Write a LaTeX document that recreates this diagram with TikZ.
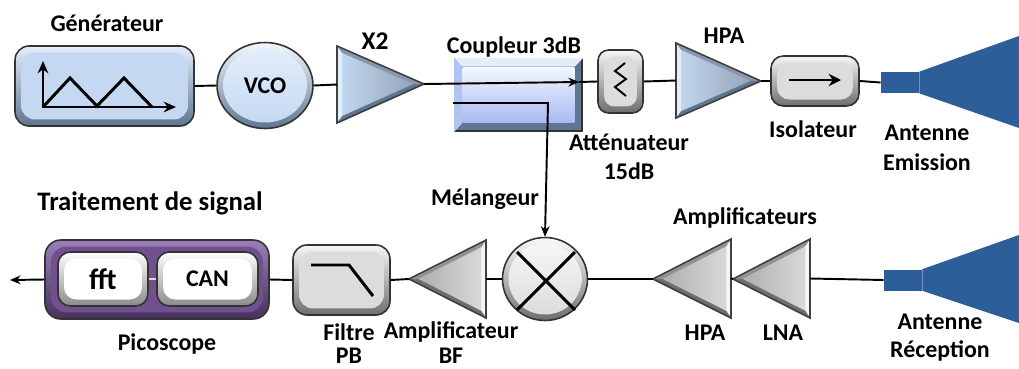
\documentclass[tikz,border=0pt]{standalone}
\usepackage{fontspec}
\setmainfont{Carlito}
\usetikzlibrary{calc,shapes.geometric,arrows.meta}
\definecolor{bluL}{HTML}{E3EEFB}
\definecolor{bluF}{HTML}{C4D9F1}
\definecolor{bluD}{HTML}{5F7590}
\definecolor{griL}{HTML}{F6F6F6}
\definecolor{griF}{HTML}{DCDCDC}
\definecolor{griD}{HTML}{6E6E6E}
\definecolor{vioL}{HTML}{9A7FB8}
\definecolor{vioF}{HTML}{70508F}
\definecolor{vioD}{HTML}{46315E}
\definecolor{blaL}{HTML}{FFFFFF}
\definecolor{blaF}{HTML}{FFFFFF}
\definecolor{blaD}{HTML}{8A8A8A}
\definecolor{horn}{HTML}{2C5E99}
\tikzset{
	lab/.style={font=\bfseries\fontsize{13.6}{15}\selectfont,inner sep=0pt},
	wire/.style={line width=1.1pt},
	sym/.style={line width=1.7pt},
	tip/.style={-{Stealth[length=6pt,width=5pt]}},
	outer/.style={draw=black!80,line width=0.9pt,inner sep=0pt},
	plain/.style={inner sep=0pt}
}
% name, centre, width, height, radius, colours, text
\newcommand{\boitier}[7]{
	\node[outer,minimum width=#3cm,minimum height=#4cm,rounded corners=#5pt,top color=#6L,bottom color=#6D] (#1) at (#2) {};
	\node[plain,fill=#6F,minimum width=#3cm-0.24cm,minimum height=#4cm-0.26cm,rounded corners=#5pt] (#1in) at (#2) {#7};
}
% name, centre, width, height, colours, text
\newcommand{\boule}[6]{
	\node[outer,ellipse,minimum width=#3cm,minimum height=#4cm,top color=#5L!40!white,bottom color=#5D] (#1) at (#2) {};
	\node[plain,ellipse,minimum width=#3cm-0.24cm,minimum height=#4cm-0.24cm,top color=#5L,bottom color=#5F] (#1in) at (#2) {#6};
}
% name, tip, top, bottom, colours, left shade, right shade
\newcommand{\ampli}[7]{
	\coordinate (#1a) at (#2);
	\coordinate (#1b) at (#3);
	\coordinate (#1c) at (#4);
	\coordinate (#1m) at ($(#1b)!.5!(#1c)$);
	\coordinate (#1g) at ($(#1a)!.667!(#1m)$);
	\coordinate (#1A) at ($(#1a)!.18!(#1g)$);
	\coordinate (#1B) at ($(#1b)!.18!(#1g)$);
	\coordinate (#1C) at ($(#1c)!.18!(#1g)$);
	\shade[left color=#6,right color=#7] (#1a) -- (#1b) -- (#1c) -- cycle;
	\fill[#5L] (#1b) -- (#1c) -- (#1C) -- (#1B) -- cycle;
	\fill[#5D!75] (#1a) -- (#1b) -- (#1B) -- (#1A) -- cycle;
	\fill[#5D] (#1a) -- (#1c) -- (#1C) -- (#1A) -- cycle;
	\draw[draw=black!75,line width=0.9pt,line join=miter] (#1a) -- (#1b) -- (#1c) -- cycle;
}
\begin{document}
\begin{tikzpicture}[x=0.02cm,y=-0.02cm]
	\useasboundingbox (0,0) rectangle (1019,369);

	% voie emission
	\boitier{gen}{104.5,86}{3.58}{1.6}{8}{blu}{}
	\boule{vco}{265,85.5}{1.92}{1.72}{blu}{\textbf{\fontsize{13.6}{15}\selectfont VCO}}
	\ampli{xtwo}{424,84}{337,46}{337,123}{blu}{bluF}{bluD!70}
	\node[outer,minimum width=2.54cm,minimum height=1.44cm,fill=bluD] (cpl) at (518.5,95) {};
	\node[plain,minimum width=2.24cm,minimum height=1.12cm,top color=bluL!40!white,bottom color=bluF!85!blue] (cplin) at (518.5,95) {};
	\fill[bluL] (cpl.north west) -- (cpl.north east) -- (cplin.north east) -- (cplin.north west) -- cycle;
	\fill[bluF!90!blue] (cpl.north west) -- (cpl.south west) -- (cplin.south west) -- (cplin.north west) -- cycle;
	\boitier{att}{620.5,81.5}{0.9}{1.26}{6}{gri}{}
	\ampli{hpa}{761,81}{676,43}{676,118}{blu}{bluF}{bluD!70}
	\boitier{iso}{815,81}{1.76}{1.0}{7}{gri}{}
	\node[plain,fill=horn,minimum width=0.76cm,minimum height=0.42cm] (ante) at (900,82.5) {};
	\fill[horn] (ante.north east) -- (1019,36) -- (1019,128) -- (ante.south east) -- cycle;

	% voie reception
	\node[plain,fill=horn,minimum width=0.76cm,minimum height=0.42cm] (antr) at (903,280) {};
	\fill[horn] (antr.north east) -- (1019,235) -- (1019,323) -- (antr.south east) -- cycle;
	\ampli{lna}{733,279}{810,239}{810,318}{gri}{griD!60}{griF}
	\ampli{hpb}{653,279}{731,239}{731,318}{gri}{griD!60}{griF}
	\boule{mix}{545,279}{1.7}{1.66}{gri}{}
	\ampli{abf}{409,279}{486,240}{486,318}{gri}{griD!60}{griF}
	\boitier{fil}{341.5,280}{1.94}{1.4}{8}{gri}{}
	\boitier{pico}{157,279.5}{4.48}{1.58}{9}{vio}{}
	\boitier{fft}{103,279}{1.8}{1.08}{7}{bla}{\textbf{\fontsize{17}{19}\selectfont fft}}
	\boitier{can}{207.5,279}{2.02}{1.08}{7}{bla}{\textbf{\fontsize{13.6}{15}\selectfont CAN}}

	% liaisons
	\coordinate (cplout) at (579,82);
	\coordinate (cpldeb) at (453,103);
	\coordinate (cplcoude) at (548,103);
	\coordinate (sortie) at (10,280);
	\draw[wire] (gen.east) -- (vco.west);
	\draw[wire] (vco.east) -- (xtwom);
	\draw[wire,tip] (xtwoa) -- (cplout);
	\draw[wire] (cplout) -- (att.west);
	\draw[wire] (att.east) -- (hpam);
	\draw[wire] (hpaa) -- (iso.west);
	\draw[wire] (iso.east) -- (ante.west);
	\draw[wire,tip] (cpldeb) -- (cplcoude) -- (mix.north);
	\draw[wire] (antr.west) -- (lnam);
	\draw[wire] (lnaa) -- (hpbm);
	\draw[wire] (hpba) -- (mix.east);
	\draw[wire] (mix.west) -- (abfm);
	\draw[wire] (abfa) -- (fil.east);
	\draw[wire] (fil.west) -- (pico.east);
	\draw[wire,tip] (pico.west) -- (sortie);
	\draw[white!85!black,line width=1.6pt] (fft.east) -- (can.west);

	% symboles
	\draw[sym,{Stealth[length=7pt,width=6pt]}-{Stealth[length=7pt,width=6pt]}] (43,61) -- (43,107) -- (176,107);
	\draw[sym] (43,107) -- (70,78) -- (97,106) -- (124,78) -- (152,107);
	\draw[line width=1.1pt] (625,63) -- (615,71) -- (626,79) -- (615,87) -- (626,96);
	\draw[sym,-{Stealth[length=7pt,width=7pt]}] (789,80) -- (841,80);
	\draw[sym] (311,265) -- (349,265) -- (373,296);
	\draw[sym] (517,252) -- (575,310);
	\draw[sym] (575,252) -- (517,310);

	% textes
	\node[lab] (tgen) at (107,23) {Générateur};
	\node[lab,font=\bfseries\fontsize{14.5}{16}\selectfont] (txtwo) at (375,41) {X2};
	\node[lab] (tcpl) at (514,47) {Coupleur 3dB};
	\node[lab] (thpa) at (724,36) {HPA};
	\node[lab] (tiso) at (813,129) {Isolateur};
	\node[lab] (tatt) at (629,142) {Atténuateur};
	\node[lab] (tdb) at (629,171) {15dB};
	\node[lab] (tante) at (927,133) {Antenne};
	\node[lab] (tem) at (927,162) {Emission};
	\node[lab,font=\bfseries\fontsize{15.2}{17}\selectfont] (ttrt) at (150,203) {Traitement de signal};
	\node[lab] (tmel) at (485,199) {Mélangeur};
	\node[lab] (tamp) at (745,218) {Amplificateurs};
	\node[lab] (thpb) at (705,333) {HPA};
	\node[lab] (tlna) at (783,333) {LNA};
	\node[lab] (tantr) at (940,322) {Antenne};
	\node[lab] (trec) at (940,351) {Réception};
	\node[lab] (tpico) at (167,344) {Picoscope};
	\node[lab] (tfil) at (349,332) {Filtre};
	\node[lab] (tpb) at (349,356) {PB};
	\node[lab] (tabf) at (451,332) {Amplificateur};
	\node[lab] (tbf) at (451,356) {BF};
\end{tikzpicture}
\end{document}
